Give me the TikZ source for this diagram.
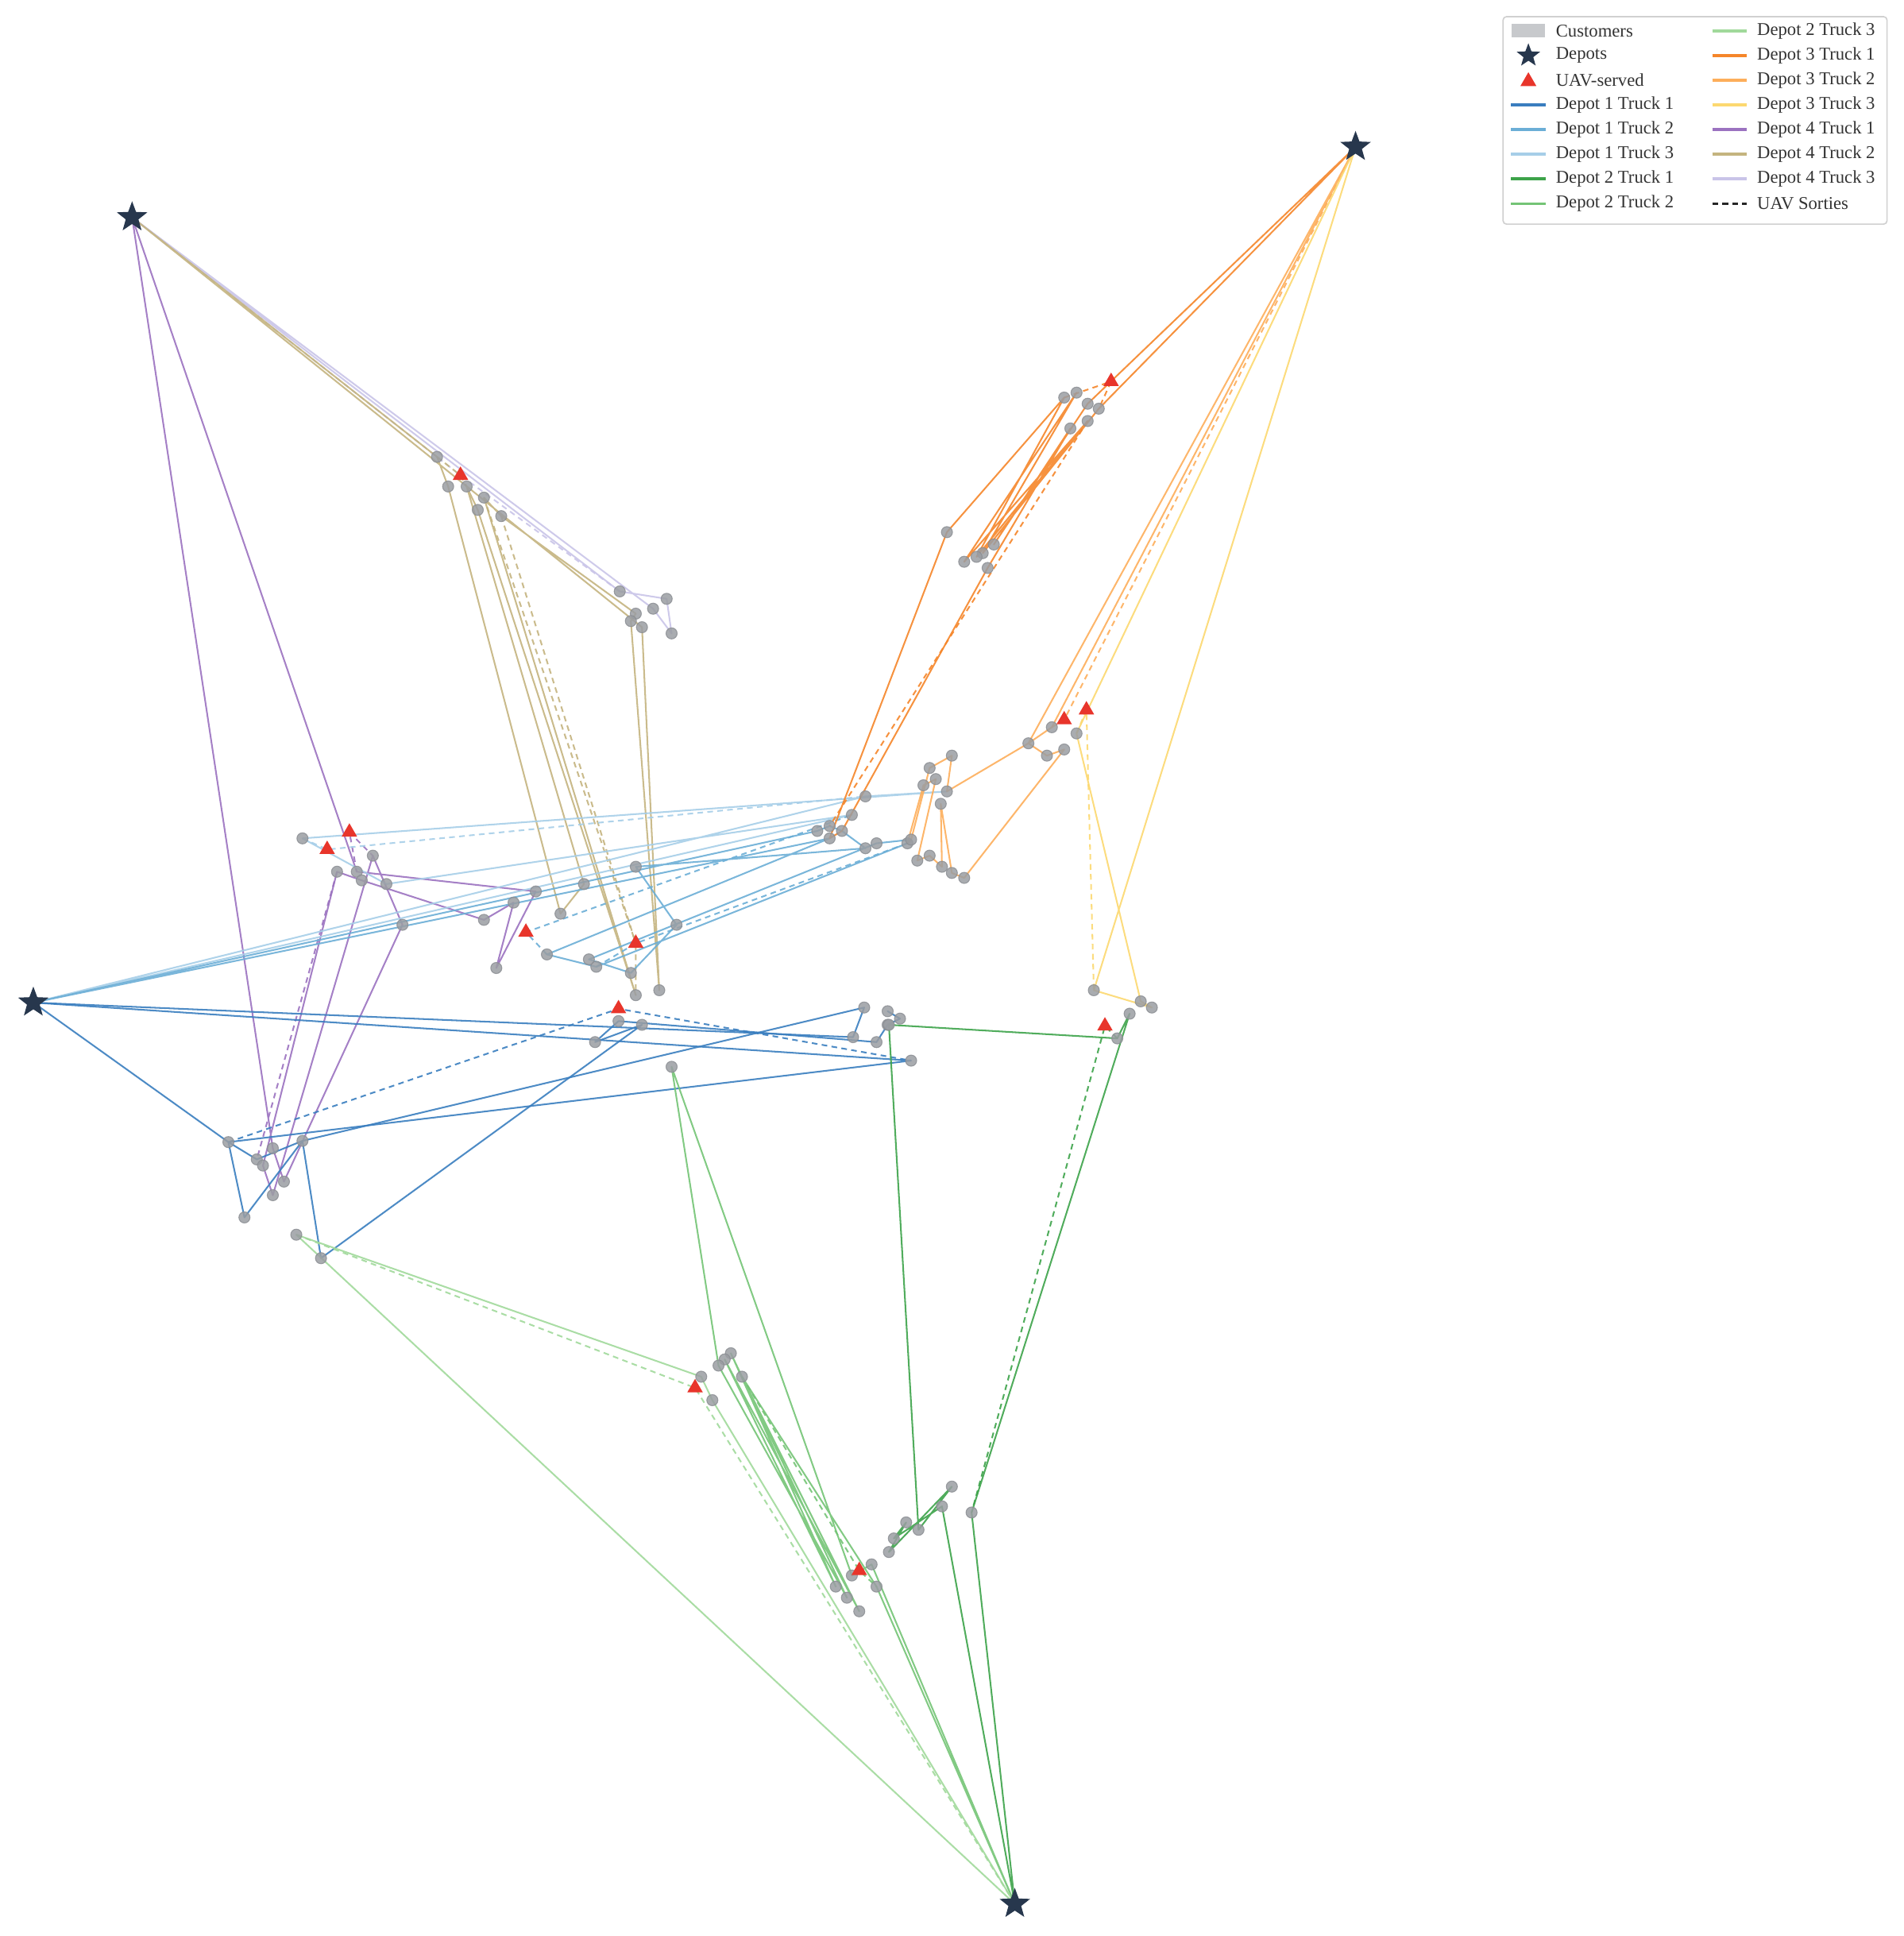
\documentclass[tikz,border=0pt]{standalone}
\usepackage{fontspec}
\setmainfont{Liberation Serif}
\usetikzlibrary{shapes.geometric}
\definecolor{cA}{HTML}{3A7EBF}
\definecolor{cB}{HTML}{6BAED6}
\definecolor{cC}{HTML}{A6CEE8}
\definecolor{cD}{HTML}{3DA34A}
\definecolor{cE}{HTML}{74C476}
\definecolor{cF}{HTML}{A1D99B}
\definecolor{cG}{HTML}{F5862A}
\definecolor{cH}{HTML}{FDAE5B}
\definecolor{cI}{HTML}{FCD870}
\definecolor{cJ}{HTML}{9B72C0}
\definecolor{cK}{HTML}{C4B47F}
\definecolor{cL}{HTML}{C9C4E8}
\definecolor{custfill}{HTML}{9A9DA2}
\definecolor{custedge}{HTML}{8A8D92}
\definecolor{depotc}{HTML}{27374D}
\definecolor{uavc}{HTML}{E8352B}
\definecolor{legtext}{HTML}{333333}
\definecolor{legedge}{HTML}{D0D0D0}
\begin{document}
\begin{tikzpicture}[x=0.02cm,y=-0.02cm,
  rt/.style={line width=0.75pt,opacity=0.9,line join=round,line cap=round},
  st/.style={line width=0.75pt,opacity=0.9,dash pattern=on 2.6pt off 2pt},
  rA/.style={rt,draw=cA}, rB/.style={rt,draw=cB}, rC/.style={rt,draw=cC},
  rD/.style={rt,draw=cD}, rE/.style={rt,draw=cE}, rF/.style={rt,draw=cF},
  rG/.style={rt,draw=cG}, rH/.style={rt,draw=cH}, rI/.style={rt,draw=cI},
  rJ/.style={rt,draw=cJ}, rK/.style={rt,draw=cK}, rL/.style={rt,draw=cL},
  sA/.style={st,draw=cA}, sB/.style={st,draw=cB}, sC/.style={st,draw=cC},
  sD/.style={st,draw=cD}, sE/.style={st,draw=cE}, sF/.style={st,draw=cF},
  sG/.style={st,draw=cG}, sH/.style={st,draw=cH}, sI/.style={st,draw=cI},
  sJ/.style={st,draw=cJ}, sK/.style={st,draw=cK}, sL/.style={st,draw=cL},
  cust/.style={circle,fill=custfill,draw=custedge,line width=0.4pt,fill opacity=0.85,draw opacity=0.8,minimum size=0.18cm,inner sep=0pt},
  uav/.style={regular polygon,regular polygon sides=3,fill=uavc,minimum size=0.29cm,inner sep=0pt},
  depot/.style={star,star points=5,star point ratio=2.4,fill=depotc,minimum size=0.52cm,inner sep=0pt},
  legtxt/.style={anchor=west,inner sep=0pt,text=legtext,font=\fontsize{8.3}{10}\selectfont},
  legln/.style={line width=1.4pt}
]
\useasboundingbox (0,0) rectangle (1542,1568);
% depots
\coordinate (D1) at (27,812);
\coordinate (D2) at (822,1542);
\coordinate (D3) at (1098,119);
\coordinate (D4) at (107,176);
% depot 4 area
\coordinate (a1) at (354,370); \coordinate (a2) at (363,394); \coordinate (a3) at (378,394);
\coordinate (a4) at (392,403); \coordinate (a5) at (387,413); \coordinate (a6) at (406,418);
\coordinate (a7) at (502,479); \coordinate (a8) at (540,485); \coordinate (a9) at (529,493);
\coordinate (a10) at (544,513); \coordinate (a11) at (515,497); \coordinate (a12) at (511,503);
\coordinate (a13) at (520,508);
\coordinate (ra) at (373,385);
% mid-left
\coordinate (b1) at (245,679); \coordinate (b2) at (302,693); \coordinate (b3) at (273,706);
\coordinate (b4) at (289,706); \coordinate (b5) at (293,713); \coordinate (b6) at (313,716);
\coordinate (b7) at (326,749); \coordinate (b8) at (434,722); \coordinate (b9) at (416,731);
\coordinate (b10) at (392,745); \coordinate (b11) at (402,784); \coordinate (b12) at (473,716);
\coordinate (b13) at (454,740); \coordinate (b14) at (515,702); \coordinate (b15) at (548,749);
\coordinate (b16) at (443,773); \coordinate (b17) at (477,777); \coordinate (b18) at (483,783);
\coordinate (b19) at (511,788); \coordinate (b20) at (515,806); \coordinate (b21) at (534,802);
\coordinate (rb1) at (283,674); \coordinate (rb2) at (265,688); \coordinate (rb3) at (426,755);
\coordinate (rb4) at (515,764);
% blue right cluster
\coordinate (c1) at (701,645); \coordinate (c2) at (690,660); \coordinate (c3) at (672,669);
\coordinate (c4) at (662,673); \coordinate (c5) at (672,679); \coordinate (c6) at (682,673);
\coordinate (c7) at (701,687); \coordinate (c8) at (710,683); \coordinate (c9) at (735,683);
\coordinate (c10) at (738,680);
% orange truck 2 cluster
\coordinate (d1) at (753,622); \coordinate (d2) at (771,612); \coordinate (d3) at (758,631);
\coordinate (d4) at (748,636); \coordinate (d5) at (767,641); \coordinate (d6) at (762,651);
\coordinate (d7) at (743,697); \coordinate (d8) at (753,693); \coordinate (d9) at (763,702);
\coordinate (d10) at (771,707); \coordinate (d11) at (781,711); \coordinate (d12) at (833,602);
\coordinate (d13) at (848,612); \coordinate (d14) at (862,607); \coordinate (d15) at (852,589);
\coordinate (d16) at (872,594);
\coordinate (rd1) at (862,583); \coordinate (rd2) at (880,575);
% orange truck 1 cluster
\coordinate (e1) at (862,322); \coordinate (e2) at (872,318); \coordinate (e3) at (881,327);
\coordinate (e4) at (890,331); \coordinate (e5) at (881,341); \coordinate (e6) at (867,347);
\coordinate (e7) at (767,431); \coordinate (e8) at (805,441); \coordinate (e9) at (796,448);
\coordinate (e10) at (791,451); \coordinate (e11) at (781,455); \coordinate (e12) at (800,460);
\coordinate (re) at (900,309);
% yellow
\coordinate (f1) at (886,802); \coordinate (f2) at (924,811); \coordinate (f3) at (933,816);
\coordinate (f4) at (915,821); \coordinate (f5) at (905,841);
\coordinate (rf) at (895,831);
% blue bottom
\coordinate (g1) at (501,827); \coordinate (g2) at (520,830); \coordinate (g3) at (482,844);
\coordinate (g4) at (700,816); \coordinate (g5) at (719,819); \coordinate (g6) at (729,825);
\coordinate (g7) at (719,830); \coordinate (g8) at (691,840); \coordinate (g9) at (710,844);
\coordinate (g10) at (738,859);
\coordinate (h1) at (185,925); \coordinate (h2) at (245,924); \coordinate (h3) at (208,939);
\coordinate (h4) at (213,944); \coordinate (h5) at (221,930); \coordinate (h6) at (230,957);
\coordinate (h7) at (221,968); \coordinate (h8) at (198,986); \coordinate (h9) at (240,1000);
\coordinate (h10) at (260,1019);
\coordinate (rg) at (501,817);
% green
\coordinate (k1) at (544,864); \coordinate (k2) at (720,830);
\coordinate (k3) at (592,1096); \coordinate (k4) at (587,1101); \coordinate (k5) at (582,1106);
\coordinate (k6) at (601,1115); \coordinate (k7) at (568,1115); \coordinate (k8) at (577,1134);
\coordinate (k9) at (706,1267); \coordinate (k10) at (690,1276); \coordinate (k11) at (677,1285);
\coordinate (k12) at (710,1285); \coordinate (k13) at (686,1294); \coordinate (k14) at (696,1305);
\coordinate (k15) at (771,1204); \coordinate (k16) at (763,1220); \coordinate (k17) at (744,1239);
\coordinate (k18) at (734,1233); \coordinate (k19) at (724,1246); \coordinate (k20) at (720,1257);
\coordinate (k21) at (787,1225);
\coordinate (rk1) at (563,1124); \coordinate (rk2) at (696,1272);

% ---------- routes ----------
% Depot 4
\draw[rL] (D4) -- (a7) -- (a8) -- (a10) -- (a9) -- (D4);
\draw[sL] (D4) -- (ra) -- (a7);
\draw[rK] (D4) -- (a1) -- (a2) -- (b13) -- (b12) -- (a3) -- (a5) -- (b20) -- (a4) -- (a6) -- (a11) -- (a12) -- (b21) -- (a13) -- (D4);
\draw[sK] (a1) -- (ra) -- (a3);
\draw[sK] (a6) -- (rb4) -- (b20);
\draw[sK] (a4) -- (rb4);
\draw[rJ] (D4) -- (b4) -- (b8) -- (b11) -- (b9) -- (b10) -- (b5) -- (b3) -- (h4) -- (h7) -- (b2) -- (b7) -- (h6) -- (h5) -- (D4);
\draw[sJ] (b4) -- (rb1) -- (b2);
\draw[sJ] (b3) -- (h3);
% Depot 1
\draw[rC] (D1) -- (c2) -- (b6) -- (b1) -- (d5) -- (c1) -- (D1);
\draw[sC] (b1) -- (rb2) -- (c1);
\draw[rB] (D1) -- (c4) -- (c3) -- (c6) -- (c7) -- (b14) -- (b15) -- (b19) -- (b17) -- (c8) -- (c10) -- (c9) -- (b18) -- (b16) -- (c5) -- (D1);
\draw[sB] (b16) -- (rb3) -- (c2);
\draw[sB] (b18) -- (rb4) -- (c9);
\draw[rA] (D1) -- (h1) -- (h8) -- (h2) -- (g4) -- (g8) -- (D1);
\draw[rA] (D1) -- (g10) -- (h1) -- (h3) -- (h2);
\draw[rA] (h2) -- (h10) -- (g2) -- (g3) -- (g1) -- (g9) -- (g7) -- (g6) -- (g5);
\draw[sA] (h1) -- (rg) -- (g10);
% Depot 3
\draw[rG] (D3) -- (e4) -- (e9) -- (e2) -- (e11) -- (e5) -- (e10) -- (e1) -- (e7) -- (c5) -- (c6) -- (e12) -- (e6) -- (e8) -- (e3) -- (D3);
\draw[sG] (e1) -- (re) -- (e4);
\draw[sG] (e5) -- (c3);
\draw[rH] (D3) -- (d15) -- (d12) -- (d5) -- (d2) -- (d1) -- (c10) -- (c9) -- (d4) -- (d3) -- (d7) -- (d8) -- (d9) -- (d6) -- (d10) -- (d11) -- (d14) -- (d13) -- (d12) -- (D3);
\draw[sH] (d15) -- (rd1) -- (D3);
\draw[rI] (D3) -- (d16) -- (f2) -- (f3) -- (f1) -- (D3);
\draw[sI] (d16) -- (rd2) -- (f1);
% Depot 2
\draw[rD] (D2) -- (k21) -- (f4) -- (f5) -- (k2) -- (k17) -- (k15) -- (k20) -- (k18) -- (k19) -- (k16) -- (D2);
\draw[sD] (f5) -- (rf) -- (k21);
\draw[rE] (D2) -- (k12) -- (k6) -- (k14) -- (k4) -- (k11) -- (k3) -- (k13) -- (k5) -- (k1) -- (k10) -- (k9) -- (D2);
\draw[sE] (k6) -- (rk2) -- (k12);
\draw[rF] (D2) -- (h9) -- (k7) -- (k8) -- (D2);
\draw[sF] (h9) -- (rk1) -- (D2);

% ---------- markers ----------
\foreach \n in {a1,a2,a3,a4,a5,a6,a7,a8,a9,a10,a11,a12,a13,
  b1,b2,b3,b4,b5,b6,b7,b8,b9,b10,b11,b12,b13,b14,b15,b16,b17,b18,b19,b20,b21,
  c1,c2,c3,c4,c5,c6,c7,c8,c9,c10,
  d1,d2,d3,d4,d5,d6,d7,d8,d9,d10,d11,d12,d13,d14,d15,d16,
  e1,e2,e3,e4,e5,e6,e7,e8,e9,e10,e11,e12,
  f1,f2,f3,f4,f5,
  g1,g2,g3,g4,g5,g6,g7,g8,g9,g10,
  h1,h2,h3,h4,h5,h6,h7,h8,h9,h10,
  k1,k2,k3,k4,k5,k6,k7,k8,k9,k10,k11,k12,k13,k14,k15,k16,k17,k18,k19,k20,k21}
  {\node[cust] (m-\n) at (\n) {};}
\foreach \n in {ra,rb1,rb2,rb3,rb4,rd1,rd2,re,rf,rg,rk1,rk2}
  {\node[uav] (m-\n) at (\n) {};}
\foreach \n in {D1,D2,D3,D4}
  {\node[depot] (m-\n) at (\n) {};}

% ---------- legend ----------
\node[draw=legedge,fill=white,line width=0.6pt,rounded corners=1.5pt,anchor=north west,
  minimum width=6.22cm,minimum height=3.36cm,inner sep=0pt] (leg) at (1217,13) {};
\node[fill=custfill!55,minimum width=0.54cm,minimum height=0.22cm,inner sep=0pt] (lg-cust) at (1238,25) {};
\node[depot,minimum size=0.4cm] (lg-dep) at (1238,45) {};
\node[uav,minimum size=0.3cm] (lg-uav) at (1238,66) {};
\draw[legln,cA] (1224,85) -- (1252,85);
\draw[legln,cB] (1224,105) -- (1252,105);
\draw[legln,cC] (1224,125) -- (1252,125);
\draw[legln,cD] (1224,145) -- (1252,145);
\draw[legln,cE] (1224,165) -- (1252,165);
\draw[legln,cF] (1387,25) -- (1415,25);
\draw[legln,cG] (1387,45) -- (1415,45);
\draw[legln,cH] (1387,65) -- (1415,65);
\draw[legln,cI] (1387,85) -- (1415,85);
\draw[legln,cJ] (1387,105) -- (1415,105);
\draw[legln,cK] (1387,125) -- (1415,125);
\draw[legln,cL] (1387,145) -- (1415,145);
\draw[legln,black!85,dash pattern=on 2.8pt off 1.8pt] (1387,165) -- (1415,165);
\node[legtxt] (lt1) at (1260,25) {Customers};
\node[legtxt] (lt2) at (1260,45) {Depots};
\node[legtxt] (lt3) at (1260,65) {UAV-served};
\node[legtxt] (lt4) at (1260,85) {Depot 1 Truck 1};
\node[legtxt] (lt5) at (1260,105) {Depot 1 Truck 2};
\node[legtxt] (lt6) at (1260,125) {Depot 1 Truck 3};
\node[legtxt] (lt7) at (1260,145) {Depot 2 Truck 1};
\node[legtxt] (lt8) at (1260,165) {Depot 2 Truck 2};
\node[legtxt] (lt9) at (1423,25) {Depot 2 Truck 3};
\node[legtxt] (lt10) at (1423,45) {Depot 3 Truck 1};
\node[legtxt] (lt11) at (1423,65) {Depot 3 Truck 2};
\node[legtxt] (lt12) at (1423,85) {Depot 3 Truck 3};
\node[legtxt] (lt13) at (1423,105) {Depot 4 Truck 1};
\node[legtxt] (lt14) at (1423,125) {Depot 4 Truck 2};
\node[legtxt] (lt15) at (1423,145) {Depot 4 Truck 3};
\node[legtxt] (lt16) at (1423,165) {UAV Sorties};
\end{tikzpicture}
\end{document}
